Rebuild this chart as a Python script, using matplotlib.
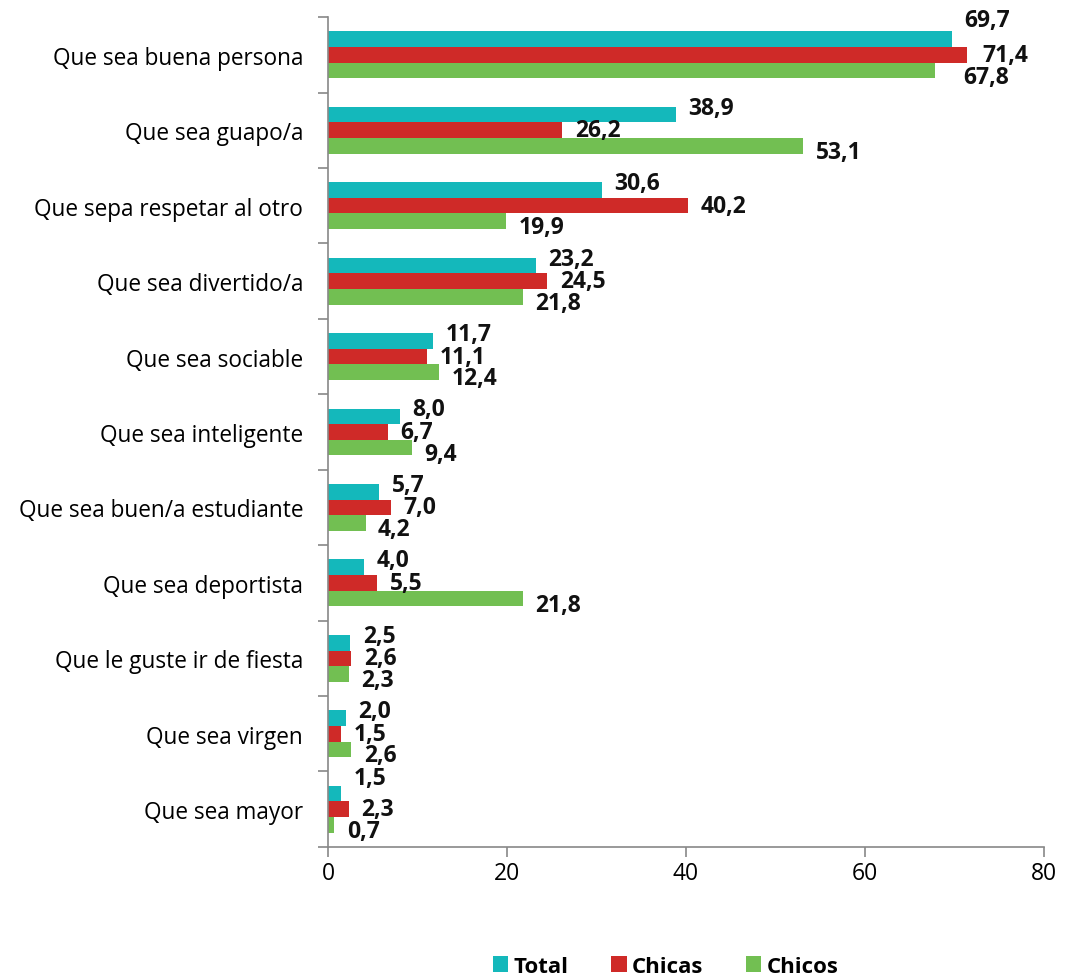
import numpy as np
import matplotlib
matplotlib.use('Agg')
import matplotlib.pyplot as plt

plt.rcParams['font.family'] = ['Open Sans', 'DejaVu Sans']

categorias = ['Que sea buena persona', 'Que sea guapo/a', 'Que sepa respetar al otro',
              'Que sea divertido/a', 'Que sea sociable', 'Que sea inteligente',
              'Que sea buen/a estudiante', 'Que sea deportista', 'Que le guste ir de fiesta',
              'Que sea virgen', 'Que sea mayor']
total = [69.7, 38.9, 30.6, 23.2, 11.7, 8.0, 5.7, 4.0, 2.5, 2.0, 1.5]
chicas = [71.4, 26.2, 40.2, 24.5, 11.1, 6.7, 7.0, 5.5, 2.6, 1.5, 2.3]
chicos = [67.8, 53.1, 19.9, 21.8, 12.4, 9.4, 4.2, 21.8, 2.3, 2.6, 0.7]
series = ['Total', 'Chicas', 'Chicos']
colores = ['#14B8BB', '#CF2A28', '#72BF52']

fig = plt.figure(figsize=(10.65, 9.78), dpi=100)
ax = fig.add_axes([0.308, 0.133, 0.672, 0.8485])

y = np.arange(len(categorias))
h = 0.207
# desplazamiento vertical de etiquetas (px) por serie
dy_serie = [7, 0, -6]
for i, (vals, col, nom) in enumerate(zip([total, chicas, chicos], colores, series)):
    pos = y + (i - 1) * h
    ax.barh(pos, vals, height=h, color=col, label=nom, edgecolor='none')
    for j, (p, v) in enumerate(zip(pos, vals)):
        dx, dy = 9, dy_serie[i] * 0.72
        if j == 0:
            dx, dy = [(9, 14), (11, 0), (21, -5)][i]
        if j == len(vals) - 1 and i == 0:
            dy = 11
        ax.annotate(('%.1f' % v).replace('.', ','), (v, p), xytext=(dx, dy),
                    textcoords='offset points', va='center', ha='left',
                    fontsize=16.5, fontweight='bold', color='#111111')

ax.set_ylim(len(categorias) - 0.5, -0.5)
ax.set_xlim(0, 80)
ax.set_xticks([0, 20, 40, 60, 80])
ax.set_yticks(np.arange(len(categorias) + 1) - 0.5)
ax.set_yticklabels([])
ax.set_yticks(y, minor=True)
ax.set_yticklabels(categorias, minor=True, fontsize=16.3)
ax.tick_params(axis='y', which='minor', length=0, pad=18)
ax.tick_params(axis='y', which='major', length=7, color='#888888', width=1.2)
ax.tick_params(axis='x', length=7, color='#888888', width=1.2, labelsize=16.5, pad=3)
for s in ['top', 'right']:
    ax.spines[s].set_visible(False)
for s in ['left', 'bottom']:
    ax.spines[s].set_color('#888888')
    ax.spines[s].set_linewidth(1.2)

leg = fig.legend(loc='lower center', bbox_to_anchor=(0.625, -0.02), ncol=3, frameon=False,
                 handlelength=0.7, handleheight=0.7, handletextpad=0.25, columnspacing=1.9,
                 prop={'weight': 'bold', 'size': 16})

fig.savefig('out.png', dpi=100)
